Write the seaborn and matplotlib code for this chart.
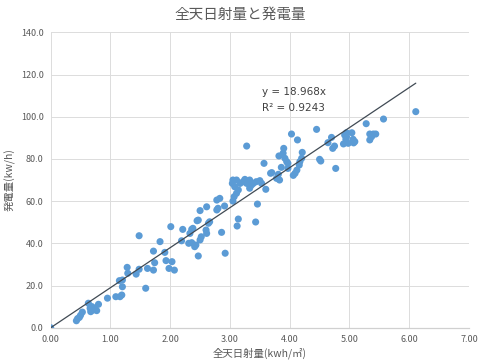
import matplotlib
matplotlib.use("Agg")
import matplotlib.pyplot as plt
import seaborn as sns
import numpy as np
import pandas as pd

# ---- data ----
irradiance = [
    0.00, 0.43, 0.45, 0.48, 0.50, 0.53, 0.63, 0.66, 0.67, 0.69, 0.71, 0.74, 0.77, 0.80,
    0.95, 1.09, 1.16, 1.19, 1.20, 1.15, 1.20, 1.28, 1.29, 1.43, 1.48, 1.48, 1.59, 1.62,
    1.72, 1.74, 1.72, 1.83, 1.91, 1.93, 2.03, 1.98, 2.07, 2.01, 2.19, 2.21, 2.33, 2.36,
    2.38, 2.31, 2.36, 2.43, 2.47, 2.41, 2.45, 2.50, 2.61, 2.50, 2.52, 2.61, 2.64, 2.60,
    2.47, 2.66, 2.78, 2.83, 2.78, 2.80, 2.91, 2.86, 2.92, 3.12, 3.14, 3.43, 3.46, 3.28,
    3.05, 3.04, 3.11, 3.08, 3.14, 3.11, 3.07, 3.05, 3.17, 3.22, 3.25, 3.28, 3.30, 3.33,
    3.36, 3.39, 3.33, 3.44, 3.50, 3.53, 3.60, 3.57, 3.68, 3.81, 3.82, 4.03, 4.13, 4.45,
    3.90, 3.89, 3.92, 3.95, 3.97, 4.21, 4.20, 4.17, 4.16, 4.12, 4.09, 4.06, 3.97, 3.86,
    3.70, 3.78, 3.83, 4.50, 4.52, 4.77, 4.64, 4.70, 4.72, 4.75, 4.92, 4.94, 4.90, 4.98,
    6.11, 5.57, 5.28, 4.95, 5.04, 4.95, 5.06, 5.09, 5.07, 5.34, 5.40, 5.44, 5.37, 5.34,
]
generation = [
    0.0, 3.3, 4.3, 4.9, 5.9, 7.4, 11.6, 9.2, 7.6, 10.0, 8.4, 9.2, 8.1, 11.1,
    14.0, 14.7, 14.7, 15.5, 19.4, 22.3, 22.6, 28.6, 25.8, 25.4, 27.7, 43.6, 18.7, 28.1,
    27.3, 30.8, 36.3, 40.8, 35.7, 31.8, 31.3, 28.1, 27.3, 47.9, 41.2, 46.6, 44.7, 46.6,
    47.1, 40.0, 40.3, 39.2, 34.0, 38.4, 50.7, 55.5, 57.3, 41.6, 43.1, 44.7, 49.5, 46.3,
    51.0, 50.2, 60.5, 61.3, 55.8, 56.6, 57.7, 45.2, 35.3, 48.2, 51.5, 50.1, 58.6, 86.1,
    70.0, 68.4, 70.0, 66.8, 65.3, 63.7, 62.1, 60.0, 68.4, 69.2, 70.3, 68.4, 69.2, 70.0,
    67.6, 68.4, 66.1, 69.2, 69.7, 68.4, 65.6, 77.9, 73.2, 72.7, 81.4, 91.8, 89.0, 94.0,
    85.0, 82.7, 80.3, 78.7, 77.9, 83.1, 80.3, 78.7, 77.1, 74.7, 73.2, 72.2, 75.5, 76.0,
    73.5, 70.8, 70.0, 79.8, 79.0, 75.5, 87.7, 90.2, 85.0, 86.1, 91.3, 89.3, 87.1, 87.4,
    102.4, 98.9, 96.7, 92.4, 92.4, 90.5, 89.3, 88.2, 87.6, 91.8, 91.8, 91.8, 90.5, 89.0,
]
slope = 18.968
r2 = 0.9243
title = "全天日射量と発電量"
xlabel = "全天日射量(kwh/㎡)"
ylabel = "発電量(kw/h)"
xticks = [0, 1, 2, 3, 4, 5, 6, 7]
yticks = [0, 20, 40, 60, 80, 100, 120, 140]

df = pd.DataFrame({"x": irradiance, "y": generation})

sns.set_style("white")
plt.rcParams["font.family"] = ["Noto Sans CJK JP", "DejaVu Sans"]

fig = plt.figure(figsize=(4.8, 3.64), dpi=100)
ax = fig.add_axes([0.1056, 0.0997, 0.8714, 0.8115])

grid_c = "#dcdcdc"
text_c = "#595959"

sns.scatterplot(data=df, x="x", y="y", ax=ax, color="#5b9bd5", s=26,
                edgecolor="none", linewidth=0, zorder=3)

xl = np.array([0, max(irradiance)])
sns.lineplot(x=xl, y=slope * xl, ax=ax, color="#404a54", linewidth=0.9, zorder=4)

ax.set_xlim(0, 7)
ax.set_ylim(0, 140)
ax.set_xticks(xticks)
ax.set_yticks(yticks)
ax.set_xticklabels([f"{v:.2f}" for v in xticks])
ax.set_yticklabels([f"{v:.1f}" for v in yticks])
ax.tick_params(axis="both", length=0, labelsize=6.5, colors=text_c, pad=5)
ax.grid(True, color=grid_c, linewidth=0.7)
ax.set_axisbelow(True)
for side in ["top", "right", "left"]:
    ax.spines[side].set_visible(False)
ax.spines["bottom"].set_color("#d0d0d0")
ax.spines["bottom"].set_linewidth(0.9)

ax.set_xlabel(xlabel, fontsize=7.5, color=text_c, labelpad=3)
ax.set_ylabel(ylabel, fontsize=7.5, color=text_c, labelpad=4)

ax.text(3.53, 111.5, f"y = {slope:.3f}x", fontsize=7.5, color="#404040",
        va="center", ha="left", family=["DejaVu Sans"])
ax.text(3.53, 104.0, f"R² = {r2:.4f}", fontsize=7.5, color="#404040",
        va="center", ha="left", family=["DejaVu Sans"])

fig.text(0.5, 0.96, title, fontsize=10.5, color=text_c, ha="center", va="center")

fig.savefig("out.png", dpi=100)
